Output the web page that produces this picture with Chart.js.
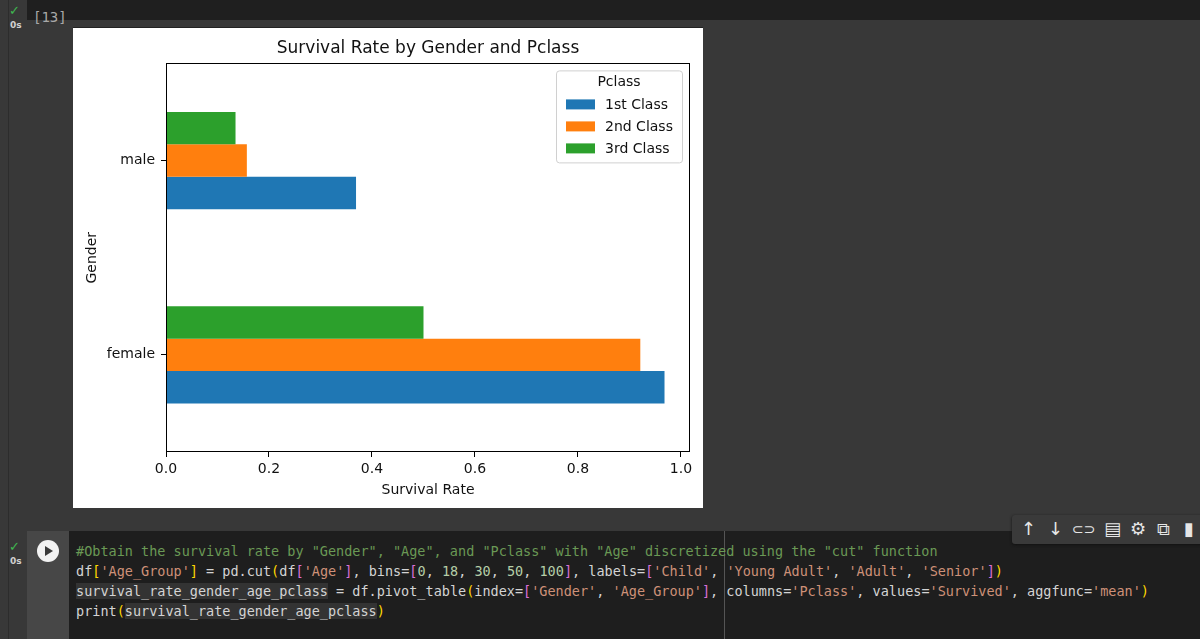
<!DOCTYPE html>
<html>
<head>
<meta charset="utf-8">
<script src="https://cdn.jsdelivr.net/npm/chart.js"></script>
<style>
  html, body { margin: 0; padding: 0; }
  body { width: 1200px; height: 639px; background: #383838; position: relative; overflow: hidden; font-family: 'DejaVu Sans', sans-serif; }
  .topbar { position: absolute; left: 27px; top: 0; width: 1173px; height: 20px; background: #1f1f1f; }
  .edge { position: absolute; left: 8px; top: 0; width: 1px; height: 639px; background: #2c2c2c; }
  .check { position: absolute; color: #3fb950; font-size: 13px; }
  .secs { position: absolute; color: #d0d0d0; font-size: 9px; font-weight: bold; }
  .count { position: absolute; left: 33px; top: 9px; color: #a8a8a8; font-family: 'DejaVu Sans Mono', monospace; font-size: 14px; }
  #plot { position: absolute; left: 73px; top: 28px; width: 630px; height: 480px; background: #fff; box-shadow: 0 -1px 0 #222; }
  .runcol { position: absolute; left: 27px; top: 531px; width: 42px; height: 108px; background: #474747; }
  .runbtn { position: absolute; left: 37px; top: 540px; width: 22px; height: 22px; border-radius: 50%; background: #f2f2f2; }
  .runbtn:after { content: ''; position: absolute; left: 8px; top: 6px; border-left: 8px solid #3a3a3a; border-top: 5px solid transparent; border-bottom: 5px solid transparent; }
  .code { position: absolute; left: 69px; top: 531px; width: 1131px; height: 108px; background: #1e1e1e; }
  .ruler { position: absolute; left: 655px; top: 0; width: 1px; height: 108px; background: #555; }
  pre { position: absolute; left: 7px; top: 10px; margin: 0; font-family: 'DejaVu Sans Mono', monospace; font-size: 13.5px; line-height: 20px; color: #d4d4d4; }
  .c { color: #6a9955; } .s { color: #ce9178; } .n { color: #b5cea8; }
  .y { color: #ffd700; } .p { color: #da70d6; } .h { background: #333333; }
  .toolbar { position: absolute; left: 1012px; top: 515px; width: 200px; height: 29px; background: #3a3a3a; border-radius: 3px; box-shadow: 0 1px 3px #111; color: #e6e6e6; font-size: 18px; }
  .toolbar span { position: absolute; top: 3px; }
</style>
</head>
<body>
<div class="topbar"></div>
<div class="edge"></div>
<div class="check" style="left:9px;top:3px;">✓</div>
<div class="secs" style="left:10px;top:20px;">0s</div>
<div class="count">[13]</div>

<div id="plot"><canvas id="chart" width="630" height="480"></canvas></div>

<div class="check" style="left:9px;top:539px;">✓</div>
<div class="secs" style="left:10px;top:556px;">0s</div>
<div class="runcol"></div>
<div class="runbtn"></div>
<div class="code">
  <div class="ruler"></div>
<pre><span class="c">#Obtain the survival rate by "Gender", "Age", and "Pclass" with "Age" discretized using the "cut" function</span>
df<span class="y">[</span><span class="s">'Age_Group'</span><span class="y">]</span> = pd.cut<span class="y">(</span>df<span class="p">[</span><span class="s">'Age'</span><span class="p">]</span>, bins=<span class="p">[</span><span class="n">0</span>, <span class="n">18</span>, <span class="n">30</span>, <span class="n">50</span>, <span class="n">100</span><span class="p">]</span>, labels=<span class="p">[</span><span class="s">'Child'</span>, <span class="s">'Young Adult'</span>, <span class="s">'Adult'</span>, <span class="s">'Senior'</span><span class="p">]</span><span class="y">)</span>
<span class="h">survival_rate_gender_age_pclass</span> = df.pivot_table<span class="y">(</span>index=<span class="p">[</span><span class="s">'Gender'</span>, <span class="s">'Age_Group'</span><span class="p">]</span>, columns=<span class="s">'Pclass'</span>, values=<span class="s">'Survived'</span>, aggfunc=<span class="s">'mean'</span><span class="y">)</span>
print<span class="y">(</span><span class="h">survival_rate_gender_age_pclass</span><span class="y">)</span></pre>
</div>
<div class="toolbar">
  <span style="left:9px;">↑</span>
  <span style="left:36px;">↓</span>
  <span style="left:60px;font-size:14px;top:6px;">⊂⊃</span>
  <span style="left:92px;">▤</span>
  <span style="left:118px;">⚙</span>
  <span style="left:145px;">⧉</span>
  <span style="left:172px;">▮</span>
</div>

<script>
// values (Titanic survival rate)
const genders = ['male', 'female'];
const classNames = ['1st Class', '2nd Class', '3rd Class'];
const firstClass = [0.369, 0.968];
const secondClass = [0.157, 0.921];
const thirdClass = [0.135, 0.500];
const xTicks = [0.0, 0.2, 0.4, 0.6, 0.8, 1.0];

const FONT = 'DejaVu Sans';
const INK = '#111';

// matplotlib-style frame + legend inside the axes
const frameLegend = {
    id: 'frameLegend',
    afterDraw(chart) {
        const ctx = chart.ctx;
        const a = chart.chartArea;
        ctx.save();
        ctx.strokeStyle = '#000';
        ctx.lineWidth = 1;
        ctx.strokeRect(Math.round(a.left) + 0.5, Math.round(a.top) + 0.5,
            Math.round(a.right - a.left) - 1, Math.round(a.bottom - a.top) - 1);

        const w = 126, h = 92;
        const bx = a.right - 8 - w, by = a.top + 7;
        ctx.fillStyle = 'rgba(255,255,255,0.8)';
        ctx.strokeStyle = '#d0d0d0';
        ctx.beginPath();
        ctx.roundRect(bx + 0.5, by + 0.5, w, h, 3);
        ctx.fill();
        ctx.stroke();

        ctx.fillStyle = INK;
        ctx.font = '14px "' + FONT + '"';
        ctx.textBaseline = 'middle';
        ctx.textAlign = 'center';
        ctx.fillText('Pclass', bx + w / 2, by + 12);
        ctx.textAlign = 'left';
        const sets = chart.data.datasets.slice().reverse();
        sets.forEach(function (ds, i) {
            const yy = by + 34 + i * 22;
            ctx.fillStyle = ds.backgroundColor;
            ctx.fillRect(bx + 10, yy - 5, 29, 10);
            ctx.fillStyle = INK;
            ctx.fillText(ds.label, bx + 49, yy + 1);
        });
        ctx.restore();
    }
};

new Chart(document.getElementById('chart'), {
    type: 'bar',
    data: {
        labels: genders,
        datasets: [
            { label: classNames[2], data: thirdClass, backgroundColor: '#2ca02c' },
            { label: classNames[1], data: secondClass, backgroundColor: '#ff7f0e' },
            { label: classNames[0], data: firstClass, backgroundColor: '#1f77b4' }
        ]
    },
    options: {
        indexAxis: 'y',
        responsive: false,
        animation: false,
        categoryPercentage: 0.5,
        barPercentage: 1.0,
        borderWidth: 0,
        layout: { padding: { left: 0, right: 13, top: 0, bottom: 0 } },
        plugins: {
            legend: { display: false },
            tooltip: { enabled: false },
            title: {
                display: true,
                text: 'Survival Rate by Gender and Pclass',
                fullSize: false,
                color: INK,
                font: { family: FONT, size: 17, weight: 'normal' },
                padding: { top: 10, bottom: 5 }
            }
        },
        scales: {
            x: {
                type: 'linear',
                min: 0,
                max: 1.0175,
                afterBuildTicks: function (scale) {
                    scale.ticks = xTicks.map(v => ({ value: v }));
                },
                afterFit: function (scale) { scale.height = 56; },
                border: { display: false },
                grid: { drawOnChartArea: false, drawTicks: true, tickLength: 5, color: '#000' },
                ticks: {
                    color: INK,
                    padding: 4,
                    maxRotation: 0,
                    font: { family: FONT, size: 14 },
                    callback: v => Number(v).toFixed(1)
                },
                title: {
                    display: true,
                    text: 'Survival Rate',
                    color: INK,
                    font: { family: FONT, size: 14 },
                    padding: { top: 2, bottom: 9 }
                }
            },
            y: {
                type: 'category',
                afterFit: function (scale) { scale.width = 93; },
                border: { display: false },
                grid: { offset: false, drawOnChartArea: false, drawTicks: true, tickLength: 5, color: '#000' },
                ticks: {
                    color: INK,
                    padding: 6,
                    font: { family: FONT, size: 14 }
                },
                title: {
                    display: true,
                    text: 'Gender',
                    color: INK,
                    font: { family: FONT, size: 14 },
                    padding: { top: 11, bottom: 0 }
                }
            }
        }
    },
    plugins: [frameLegend]
});
</script>
</body>
</html>
